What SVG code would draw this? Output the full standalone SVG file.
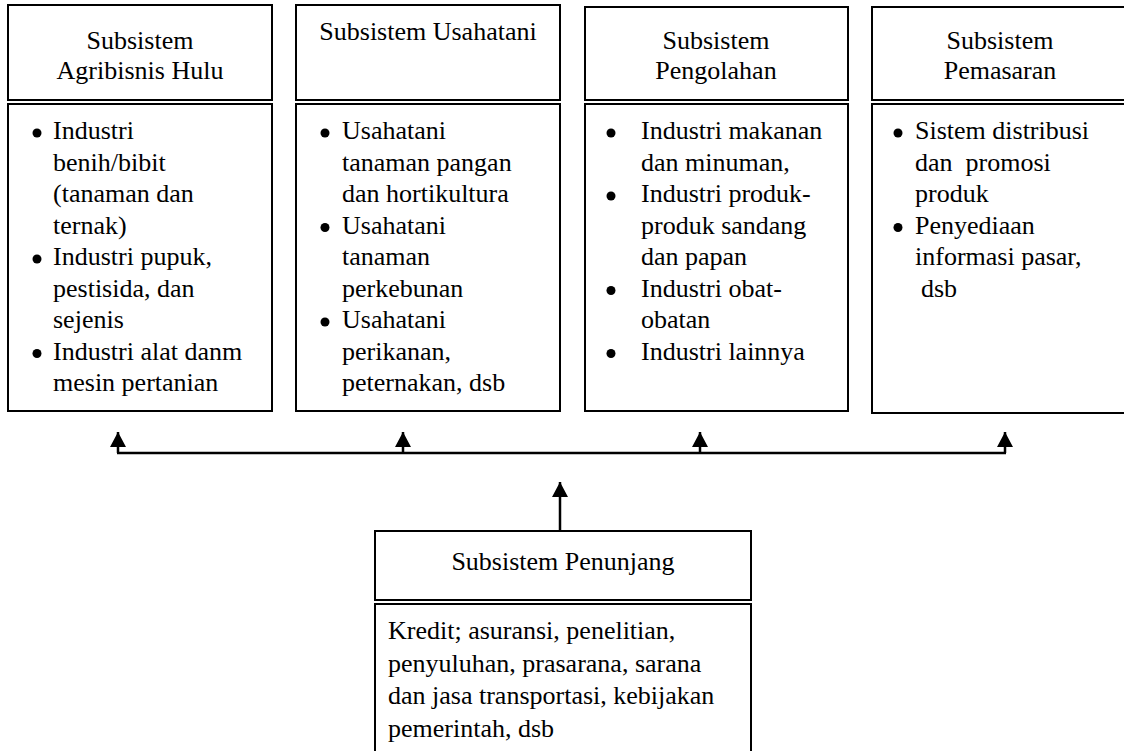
<svg xmlns="http://www.w3.org/2000/svg" width="1124" height="751" viewBox="0 0 1124 751">
<defs>
<style>
.box{fill:#fff;stroke:#000;stroke-width:2}
.ln{stroke:#000;stroke-width:2.5;fill:none}
</style>
<marker id="ah" viewBox="0 0 15 16" refX="15" refY="8" markerWidth="15" markerHeight="16" markerUnits="userSpaceOnUse" orient="auto">
<path d="M0,0 L15,8 L0,16 z" fill="#000"/>
</marker>
</defs>
<rect width="1124" height="751" fill="#fff"/>

<g id="hulu">
<rect class="box" x="8" y="5" width="264" height="95"/>
<rect class="box" x="8" y="104" width="264" height="307"/>
<text x="140" y="49" text-anchor="middle" font-size="26" font-family="'Liberation Serif'">Subsistem</text>
<text x="140" y="79" text-anchor="middle" font-size="26" font-family="'Liberation Serif'">Agribisnis Hulu</text>
<circle cx="37" cy="133" r="4.5"/>
<circle cx="37" cy="259" r="4.5"/>
<circle cx="37" cy="353.5" r="4.5"/>
<text x="53" y="139" font-size="26" font-family="'Liberation Serif'">Industri</text>
<text x="53" y="170.5" font-size="26" font-family="'Liberation Serif'">benih/bibit</text>
<text x="53" y="202" font-size="26" font-family="'Liberation Serif'">(tanaman dan</text>
<text x="53" y="233.5" font-size="26" font-family="'Liberation Serif'">ternak)</text>
<text x="53" y="265" font-size="26" font-family="'Liberation Serif'">Industri pupuk,</text>
<text x="53" y="296.5" font-size="26" font-family="'Liberation Serif'">pestisida, dan</text>
<text x="53" y="328" font-size="26" font-family="'Liberation Serif'">sejenis</text>
<text x="53" y="359.5" font-size="26" font-family="'Liberation Serif'">Industri alat danm</text>
<text x="53" y="391" font-size="26" font-family="'Liberation Serif'">mesin pertanian</text>
</g>

<g id="usahatani">
<rect class="box" x="296" y="5" width="264" height="95"/>
<rect class="box" x="296" y="104" width="264" height="307"/>
<text x="428" y="40" text-anchor="middle" font-size="26" font-family="'Liberation Serif'">Subsistem Usahatani</text>
<circle cx="325" cy="133" r="4.5"/>
<circle cx="325" cy="227.5" r="4.5"/>
<circle cx="325" cy="322" r="4.5"/>
<text x="342" y="139" font-size="26" font-family="'Liberation Serif'">Usahatani</text>
<text x="342" y="170.5" font-size="26" font-family="'Liberation Serif'">tanaman pangan</text>
<text x="342" y="202" font-size="26" font-family="'Liberation Serif'">dan hortikultura</text>
<text x="342" y="233.5" font-size="26" font-family="'Liberation Serif'">Usahatani</text>
<text x="342" y="265" font-size="26" font-family="'Liberation Serif'">tanaman</text>
<text x="342" y="296.5" font-size="26" font-family="'Liberation Serif'">perkebunan</text>
<text x="342" y="328" font-size="26" font-family="'Liberation Serif'">Usahatani</text>
<text x="342" y="359.5" font-size="26" font-family="'Liberation Serif'">perikanan,</text>
<text x="342" y="391" font-size="26" font-family="'Liberation Serif'">peternakan, dsb</text>
</g>

<g id="pengolahan">
<rect class="box" x="585" y="7" width="263" height="93"/>
<rect class="box" x="585" y="104" width="263" height="307"/>
<text x="716" y="49" text-anchor="middle" font-size="26" font-family="'Liberation Serif'">Subsistem</text>
<text x="716" y="79" text-anchor="middle" font-size="26" font-family="'Liberation Serif'">Pengolahan</text>
<circle cx="611" cy="133" r="4.5"/>
<circle cx="611" cy="196" r="4.5"/>
<circle cx="611" cy="290.5" r="4.5"/>
<circle cx="611" cy="353.5" r="4.5"/>
<text x="641" y="139" font-size="26" font-family="'Liberation Serif'">Industri makanan</text>
<text x="641" y="170.5" font-size="26" font-family="'Liberation Serif'">dan minuman,</text>
<text x="641" y="202" font-size="26" font-family="'Liberation Serif'">Industri produk-</text>
<text x="641" y="233.5" font-size="26" font-family="'Liberation Serif'">produk sandang</text>
<text x="641" y="265" font-size="26" font-family="'Liberation Serif'">dan papan</text>
<text x="641" y="296.5" font-size="26" font-family="'Liberation Serif'">Industri obat-</text>
<text x="641" y="328" font-size="26" font-family="'Liberation Serif'">obatan</text>
<text x="641" y="359.5" font-size="26" font-family="'Liberation Serif'">Industri lainnya</text>
</g>

<g id="pemasaran">
<rect class="box" x="872" y="7" width="270" height="93"/>
<rect class="box" x="872" y="104" width="270" height="309"/>
<text x="1000" y="49" text-anchor="middle" font-size="26" font-family="'Liberation Serif'">Subsistem</text>
<text x="1000" y="79" text-anchor="middle" font-size="26" font-family="'Liberation Serif'">Pemasaran</text>
<circle cx="898" cy="133" r="4.5"/>
<circle cx="898" cy="227.5" r="4.5"/>
<text x="915" y="139" font-size="26" font-family="'Liberation Serif'">Sistem distribusi</text>
<text x="915" y="170.5" font-size="26" font-family="'Liberation Serif'" xml:space="preserve">dan  promosi</text>
<text x="915" y="202" font-size="26" font-family="'Liberation Serif'">produk</text>
<text x="915" y="233.5" font-size="26" font-family="'Liberation Serif'">Penyediaan</text>
<text x="915" y="265" font-size="26" font-family="'Liberation Serif'">informasi pasar,</text>
<text x="921" y="296.5" font-size="26" font-family="'Liberation Serif'">dsb</text>
</g>

<g id="penunjang">
<rect class="box" x="375" y="531" width="376" height="69"/>
<rect class="box" x="375" y="604" width="376" height="160"/>
<text x="563" y="570" text-anchor="middle" font-size="26" font-family="'Liberation Serif'">Subsistem Penunjang</text>
<text x="388" y="639" font-size="26" font-family="'Liberation Serif'">Kredit; asuransi, penelitian,</text>
<text x="388" y="671.5" font-size="26" font-family="'Liberation Serif'">penyuluhan, prasarana, sarana</text>
<text x="388" y="704" font-size="26" font-family="'Liberation Serif'">dan jasa transportasi, kebijakan</text>
<text x="388" y="736.5" font-size="26" font-family="'Liberation Serif'">pemerintah, dsb</text>
</g>

<g id="connectors">
<line class="ln" x1="117" y1="453" x2="1006" y2="453"/>
<line class="ln" x1="118" y1="453" x2="118" y2="432" marker-end="url(#ah)"/>
<line class="ln" x1="403" y1="453" x2="403" y2="432" marker-end="url(#ah)"/>
<line class="ln" x1="700" y1="453" x2="700" y2="432" marker-end="url(#ah)"/>
<line class="ln" x1="1005" y1="453" x2="1005" y2="432" marker-end="url(#ah)"/>
<line class="ln" x1="560" y1="531" x2="560" y2="482" marker-end="url(#ah)"/>
</g>
</svg>
